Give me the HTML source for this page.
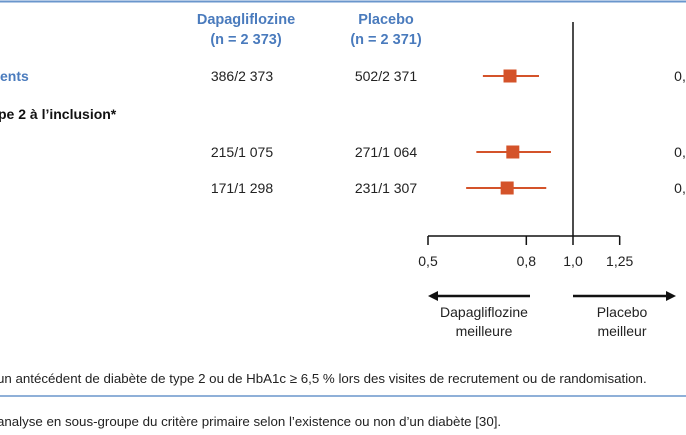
<!DOCTYPE html>
<html><head><meta charset="utf-8"><style>
body{margin:0;width:686px;height:430px;overflow:hidden;background:#fff;font-family:"Liberation Sans",sans-serif;}
svg text{font-family:"Liberation Sans",sans-serif;}
</style></head><body>
<svg width="686" height="430" xmlns="http://www.w3.org/2000/svg">
<line x1="0" y1="1.5" x2="686" y2="1.5" stroke="#6a96cc" stroke-width="2"/>
<g fill="#4a7bbd" font-weight="bold" font-size="14.5" text-anchor="middle">
<text x="246" y="24">Dapagliflozine</text>
<text x="246" y="44">(n = 2 373)</text>
<text x="386" y="24">Placebo</text>
<text x="386" y="44">(n = 2 371)</text>
</g>
<text x="0" y="81" fill="#4a7bbd" font-weight="bold" font-size="14">ents</text>
<text x="-2" y="119" fill="#111" font-weight="bold" font-size="14">pe 2 à l’inclusion*</text>
<g id="rows" font-size="14" fill="#222" text-anchor="middle"></g>
<g id="marks"></g>
<line x1="573" y1="22" x2="573" y2="236" stroke="#111" stroke-width="1.5"/>
<g id="axis" font-size="14" fill="#222" text-anchor="middle"></g>
<g stroke="#111" stroke-width="2.5">
<line x1="436" y1="296" x2="530" y2="296"/>
<line x1="573" y1="296" x2="668" y2="296"/>
</g>
<polygon points="428,296 438,291 438,301" fill="#111"/>
<polygon points="676,296 666,291 666,301" fill="#111"/>
<g font-size="14" fill="#222" text-anchor="middle">
<text x="484" y="317">Dapagliflozine</text>
<text x="484" y="336">meilleure</text>
<text x="622" y="317">Placebo</text>
<text x="622" y="336">meilleur</text>
</g>
<text x="-3" y="383" font-size="13.3" fill="#222">un antécédent de diabète de type 2 ou de HbA1c ≥ 6,5 % lors des visites de recrutement ou de randomisation.</text>
<line x1="0" y1="396" x2="686" y2="396" stroke="#8fb0d8" stroke-width="2"/>
<text x="-3" y="426" font-size="13.3" fill="#222">analyse en sous-groupe du critère primaire selon l’existence ou non d’un diabète [30].</text>
</svg>
<script>
const dapaCounts=["386/2 373","215/1 075","171/1 298"];
const placeboCounts=["502/2 371","271/1 064","231/1 307"];
const hr=[0.74,0.75,0.73];
const ciLow=[0.65,0.63,0.60];
const ciHigh=[0.85,0.90,0.88];
const hrText=["0,","0,","0,"];
const tickValues=[0.5,0.8,1.0,1.25];
const tickLabels=["0,5","0,8","1,0","1,25"];
const rowY=[76,152,188];
const NS="http://www.w3.org/2000/svg";
function xs(v){return 573+145*Math.log2(v);}
const rows=document.getElementById('rows'),marks=document.getElementById('marks'),axis=document.getElementById('axis');
function mk(tag,attrs,parent){const e=document.createElementNS(NS,tag);for(const k in attrs)e.setAttribute(k,attrs[k]);parent.appendChild(e);return e;}
hr.forEach((h,i)=>{
 const y=rowY[i];
 let t=mk('text',{x:242,y:y+5},rows);t.textContent=dapaCounts[i];
 
 
 t=mk('text',{x:386,y:y+5},rows);t.textContent=placeboCounts[i];
 
 
 t=mk('text',{x:680,y:y+5},rows);t.textContent=hrText[i];
 
 
 const l=mk('line',{x1:xs(ciLow[i]),x2:xs(ciHigh[i]),y1:y,y2:y,stroke:'#d4532a','stroke-width':2},marks);
 
 
 const r=mk('rect',{x:xs(h)-6.5,y:y-6.5,width:13,height:13,fill:'#d4532a'},marks);
 
 
});
const ax=mk('line',{x1:xs(0.5),x2:xs(1.25),y1:236,y2:236,stroke:'#111','stroke-width':1.5},axis);


tickValues.forEach((v,i)=>{
 const tk=mk('line',{x1:xs(v),x2:xs(v),y1:236,y2:245,stroke:'#111','stroke-width':1.5},axis);
 
 
 const t=mk('text',{x:xs(v),y:266},axis);t.textContent=tickLabels[i];
 
 
});
</script>
</body></html>
